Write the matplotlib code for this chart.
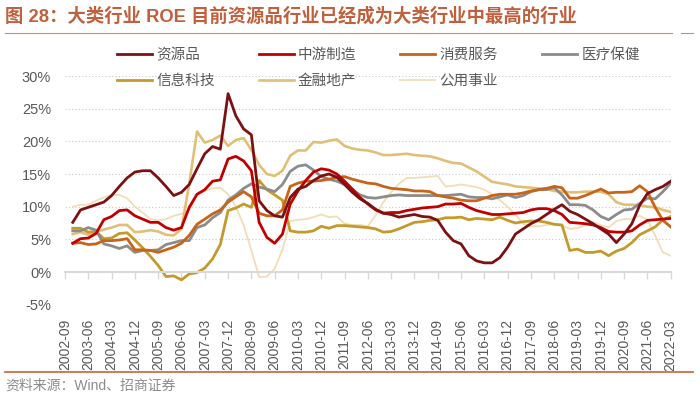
import numpy as np
import pandas as pd
import matplotlib
matplotlib.use("Agg")
import matplotlib.pyplot as plt
from matplotlib.lines import Line2D

plt.rcParams['font.family'] = ['Liberation Sans', 'Noto Sans CJK SC']

# 季度 ROE（%），2002-12 ~ 2022-03
quarters = pd.period_range('2002Q4', '2022Q1', freq='Q')

tick_labels = ['2002-09', '2003-06', '2004-03', '2004-12', '2005-09', '2006-06', '2007-03',
               '2007-12', '2008-09', '2009-06', '2010-03', '2010-12', '2011-09', '2012-06',
               '2013-03', '2013-12', '2014-09', '2015-06', '2016-03', '2016-12', '2017-09',
               '2018-06', '2019-03', '2019-12', '2020-09', '2021-06', '2022-03']

resources = [7.6, 9.5, 9.9, 10.3, 10.7, 11.7, 13.1, 14.4, 15.3, 15.5, 15.5, 14.4, 13.1, 11.7, 12.2, 13.4,
             15.8, 18.1, 19.2, 18.8, 27.3, 23.9, 21.9, 21.0, 10.9, 9.4, 8.6, 8.4, 11.4, 12.7, 13.1, 14.0,
             14.7, 15.0, 14.5, 13.4, 12.2, 11.2, 10.5, 9.6, 9.0, 8.8, 8.4, 8.6, 8.8, 8.5, 8.4, 7.9,
             6.1, 4.8, 4.3, 2.5, 1.7, 1.4, 1.4, 2.2, 3.8, 5.8, 6.6, 7.4, 8.0, 8.8, 9.6, 10.3,
             9.3, 8.8, 8.1, 7.4, 6.6, 5.8, 4.5, 5.8, 7.4, 10.2, 12.0, 12.6, 13.1, 13.9]

midstream = [4.4, 5.1, 5.2, 5.9, 8.0, 8.5, 9.4, 9.5, 8.6, 8.1, 7.6, 7.6, 6.8, 6.4, 6.8, 9.9,
             11.9, 12.6, 13.9, 14.1, 17.3, 17.7, 17.0, 15.5, 7.6, 5.3, 4.4, 5.8, 10.4, 12.4, 14.0, 15.3,
             15.8, 15.6, 15.0, 13.9, 12.7, 11.4, 10.4, 9.5, 9.0, 9.1, 9.1, 9.4, 9.6, 9.8, 9.9, 10.0,
             10.4, 10.4, 10.5, 9.9, 9.4, 9.1, 8.8, 8.8, 8.9, 9.0, 9.1, 9.5, 9.7, 9.7, 9.4, 8.8,
             7.6, 7.5, 7.4, 7.2, 6.8, 6.2, 6.1, 6.1, 6.3, 7.2, 7.9, 8.0, 8.1, 8.2]

consumer = [4.4, 4.5, 4.2, 4.3, 4.8, 4.8, 4.9, 5.1, 3.4, 3.4, 3.3, 3.0, 3.4, 3.8, 4.4, 5.6,
            7.3, 8.1, 8.9, 9.5, 10.7, 11.5, 12.3, 11.5, 9.0, 8.6, 8.6, 9.5, 13.1, 13.6, 13.9, 13.9,
            14.0, 14.2, 14.5, 14.6, 14.2, 13.9, 13.6, 13.5, 13.1, 12.8, 12.7, 12.6, 12.4, 12.4, 12.3, 11.7,
            11.5, 11.3, 11.0, 10.9, 10.9, 11.3, 11.7, 11.9, 11.9, 11.9, 12.1, 12.4, 12.6, 12.8, 13.1, 12.9,
            11.3, 11.3, 11.7, 12.2, 12.7, 12.1, 12.2, 12.2, 12.3, 13.2, 12.3, 9.9, 7.9, 6.9]

healthcare = [6.3, 6.3, 6.8, 6.4, 4.3, 4.0, 3.6, 4.0, 3.0, 3.3, 3.3, 3.4, 4.2, 4.5, 4.8, 4.8,
              6.8, 7.2, 8.3, 9.1, 11.0, 11.8, 12.8, 13.5, 13.0, 12.7, 12.3, 13.4, 15.4, 16.2, 16.4, 15.6,
              14.6, 14.2, 13.9, 13.4, 12.6, 11.8, 11.4, 11.3, 11.5, 11.7, 11.8, 11.7, 11.7, 11.7, 11.7, 11.7,
              11.7, 11.8, 11.9, 11.5, 11.4, 11.4, 11.2, 11.5, 11.8, 11.4, 11.7, 12.3, 12.6, 12.6, 12.9, 11.8,
              10.3, 10.3, 10.2, 9.5, 8.5, 8.0, 8.8, 9.5, 9.6, 10.5, 11.3, 11.2, 12.3, 13.6]

tech = [6.7, 6.7, 6.1, 6.2, 5.1, 5.2, 5.9, 6.0, 4.9, 3.7, 2.4, 1.0, -0.7, -0.6, -1.2, -0.3,
        -0.1, 0.6, 2.0, 4.2, 9.4, 9.8, 10.4, 9.9, 14.0, 12.6, 11.8, 11.0, 6.3, 6.1, 6.1, 6.3,
        7.0, 6.7, 7.1, 7.1, 7.0, 6.9, 6.8, 6.6, 6.1, 6.2, 6.6, 7.1, 7.6, 7.7, 7.9, 8.0,
        8.3, 8.3, 8.4, 8.0, 8.2, 8.1, 8.0, 8.4, 7.9, 7.5, 7.7, 7.8, 7.8, 7.6, 7.3, 7.2,
        3.3, 3.5, 3.0, 3.0, 3.2, 2.5, 3.2, 3.6, 4.5, 5.7, 6.3, 6.9, 8.0, 8.5]

finance = [5.8, 6.1, 5.7, 6.1, 6.5, 6.8, 7.2, 7.2, 6.1, 6.2, 6.4, 6.2, 5.7, 5.6, 6.6, 13.5,
           21.5, 19.8, 20.2, 20.9, 19.3, 20.2, 20.5, 18.7, 16.4, 15.0, 14.7, 15.5, 17.8, 18.6, 18.6, 19.9,
           19.8, 20.1, 20.3, 19.3, 18.9, 18.7, 18.6, 18.3, 17.9, 17.9, 18.0, 18.1, 17.9, 17.8, 17.7, 17.4,
           17.0, 16.7, 16.6, 16.0, 15.4, 14.6, 13.8, 13.6, 13.4, 13.1, 13.0, 12.9, 12.8, 12.7, 12.4, 12.3,
           12.2, 12.2, 12.3, 12.3, 12.3, 11.9, 10.7, 10.3, 10.3, 10.2, 10.0, 9.9, 9.5, 9.2]

utilities = [10.0, 10.3, 10.3, 10.9, 11.4, 11.8, 11.8, 11.3, 10.0, 9.1, 8.1, 7.9, 8.1, 8.6, 8.9, 9.4,
             11.8, 12.4, 12.8, 12.9, 11.9, 10.0, 7.2, 3.3, -0.8, -0.7, 0.5, 3.4, 7.8, 8.0, 8.1, 8.4,
             8.8, 8.4, 8.5, 7.4, 7.2, 7.2, 7.0, 8.7, 10.7, 12.2, 13.5, 14.4, 14.4, 14.5, 14.6, 14.7,
             13.1, 13.2, 13.4, 13.2, 13.0, 12.6, 11.9, 11.0, 10.0, 8.8, 7.4, 7.0, 7.0, 7.2, 7.3, 7.1,
             6.6, 6.7, 7.2, 7.6, 7.2, 6.8, 7.8, 8.1, 8.1, 8.6, 8.0, 5.6, 3.0, 2.5]

# 名称, 数据, 颜色, 线宽（按绘制顺序）
series = [
    ('公用事业', utilities, '#F2DDB6', 1.3),
    ('金融地产', finance, '#E0C076', 1.9),
    ('信息科技', tech, '#C49A2C', 2.0),
    ('医疗保健', healthcare, '#8C8C8C', 2.0),
    ('消费服务', consumer, '#C8641A', 2.0),
    ('中游制造', midstream, '#C00000', 2.0),
    ('资源品', resources, '#7B1113', 2.0),
]

fig = plt.figure(figsize=(7, 3.99), dpi=100)
ax = fig.add_axes([65 / 700, 1 - 305 / 399, 605.7 / 700, 229 / 399])

x = np.arange(1, len(quarters) + 1)
lines = {}
for name, vals, color, lw in series:
    lines[name], = ax.plot(x, vals, color=color, lw=lw, solid_joinstyle='round')

ax.set_xlim(0, 78)
ax.set_ylim(-5.05, 30)
ax.set_yticks(range(-5, 31, 5))
ax.yaxis.set_major_formatter(lambda v, p: f'{v:.0f}%')
ax.yaxis.grid(True, color='#C8C8C8', ls=(0, (1, 2)), lw=0.8)
ax.set_axisbelow(True)

for s in ['left', 'right', 'top']:
    ax.spines[s].set_visible(False)
ax.spines['bottom'].set_position(('data', 0))
ax.spines['bottom'].set_color('#D9D9D9')
ax.spines['bottom'].set_linewidth(1.5)

ax.set_xticks(np.arange(0, 79, 3))
ax.set_xticklabels(tick_labels, rotation=90)
ax.tick_params(axis='x', direction='out', length=5, width=1, color='#D9D9D9',
               pad=29, labelsize=10, labelcolor='#595959')
ax.tick_params(axis='y', length=0, pad=10, labelsize=10.5, labelcolor='#595959')

order = ['资源品', '信息科技', '中游制造', '金融地产', '消费服务', '公用事业', '医疗保健']
fig.legend([lines[n] for n in order], order, loc='upper left',
           bbox_to_anchor=(117 / 700, 1 - 48 / 399), ncol=4, frameon=False,
           fontsize=10.5, labelcolor='#595959', handlelength=2.4, handletextpad=0.3,
           columnspacing=3.0, labelspacing=0.82, borderpad=0, borderaxespad=0)

fig.text(5 / 700, 1 - 16 / 399, '图 28：大类行业 ROE 目前资源品行业已经成为大类行业中最高的行业',
         fontsize=13.2, fontweight='bold', color='#C0603C', va='center')
fig.add_artist(Line2D([5 / 700, 672 / 700], [1 - 33 / 399] * 2, color='#D9875F', lw=0.8))
fig.add_artist(Line2D([681 / 700, 693 / 700], [1 - 33 / 399] * 2, color='#D9875F', lw=0.8))
fig.add_artist(Line2D([5 / 700, 693 / 700], [1 - 372 / 399] * 2, color='#C8643C', lw=1.2))
fig.text(5 / 700, 1 - 386 / 399, '资料来源：Wind、招商证券', fontsize=10, color='#8C8C8C', va='center')

fig.savefig('out.png', dpi=100)
